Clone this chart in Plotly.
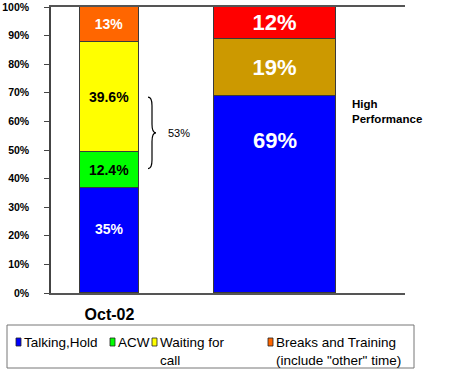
import plotly.graph_objects as go

# ---------------- data ----------------
categories = ["Oct-02", ""]
talking_hold = [36.8, 69.0]
acw = [12.4, None]
waiting_for_call = [38.5, None]
breaks_training = [12.3, None]
hp_middle = [None, 19.7]
hp_top = [None, 11.3]

talking_labels = ["35%", "69%"]
acw_labels = ["12.4%", ""]
waiting_labels = ["39.6%", ""]
breaks_labels = ["13%", ""]
hp_middle_labels = ["", "19%"]
hp_top_labels = ["", "12%"]

legend_names = ["Talking,Hold", "ACW", "Waiting for<br>call",
                "Breaks and Training<br>(include \"other\" time)"]
y_ticks = [0, 10, 20, 30, 40, 50, 60, 70, 80, 90, 100]
y_tick_labels = [f"{v}%" for v in y_ticks]
brace_label = "53%"
side_label = "High<br>Performance"

# ---------------- styling / layout ----------------
FONT = "Liberation Sans, Arial, sans-serif"
W, H = 450, 369
ML, MR, MT, MB = 51, 45, 7, 76
PX_PER_UNIT = 165.5
C0 = 109.5  # pixel centre of first bar
x_pos = list(range(len(categories)))
bar_widths = [59 / PX_PER_UNIT, 122 / PX_PER_UNIT]
OUTLINE = dict(color="#3a3a3a", width=1)
# the blue-segment labels sit above the segment centre in the original
TALKING_LABEL_FRAC = [0.61, 0.775]
TALKING_LABEL_SIZE = [14, 22]

def xd(px):
    return (px - C0) / PX_PER_UNIT

def xp(px):
    return (px - ML) / (W - ML - MR)

def yp(py):
    return (H - MB - py) / (H - MT - MB)

fig = go.Figure()

def add_seg(vals, labels, color, tcolors, tsizes):
    fig.add_trace(go.Bar(
        x=x_pos, y=vals, width=bar_widths,
        marker=dict(color=color, line=OUTLINE),
        text=labels, textposition="inside", insidetextanchor="middle",
        textangle=0, constraintext="none",
        textfont=dict(family=FONT, color=tcolors, size=tsizes, weight="bold"),
        showlegend=False, hoverinfo="skip", cliponaxis=False))

add_seg(talking_hold, ["", ""], "#0000FF", ["white", "white"], [14, 22])
add_seg(acw, acw_labels, "#00FF00", ["black", "black"], [14, 14])
add_seg(waiting_for_call, waiting_labels, "#FFFF00", ["black", "black"], [14, 14])
add_seg(breaks_training, breaks_labels, "#FF6600", ["white", "white"], [14, 14])
add_seg(hp_middle, hp_middle_labels, "#CC9900", ["white", "white"], [22, 22])
add_seg(hp_top, hp_top_labels, "#FF0000", ["white", "white"], [22, 22])

shapes = []
annotations = []

for xi, v, lab, fr, sz in zip(x_pos, talking_hold, talking_labels,
                              TALKING_LABEL_FRAC, TALKING_LABEL_SIZE):
    annotations.append(dict(x=xi, y=v * fr, xref="x", yref="y", text=lab,
                            showarrow=False, xanchor="center", yanchor="middle",
                            font=dict(family=FONT, size=sz, color="white", weight="bold")))

# curly brace
bx0, bxm, bx1 = xd(148), xd(152), xd(156)
ytop, ybot, ymid, c = 68.5, 43.5, 56.0, 3.0
path = (f"M {bx0},{ytop} Q {bxm},{ytop} {bxm},{ytop-c} L {bxm},{ymid+c} "
        f"Q {bxm},{ymid} {bx1},{ymid} Q {bxm},{ymid} {bxm},{ymid-c} "
        f"L {bxm},{ybot+c} Q {bxm},{ybot} {bx0},{ybot}")
shapes.append(dict(type="path", path=path, xref="x", yref="y",
                   line=dict(color="black", width=1.2)))
annotations.append(dict(x=xd(166), y=ymid, xref="x", yref="y", text=brace_label,
                        showarrow=False, xanchor="left", yanchor="middle",
                        font=dict(family=FONT, size=11, color="black")))
annotations.append(dict(x=xd(350), y=63.5, xref="x", yref="y", text=side_label,
                        showarrow=False, xanchor="left", yanchor="middle", align="left",
                        font=dict(family=FONT, size=11.5, color="black", weight="bold")))

# manual legend
shapes.append(dict(type="rect", xref="paper", yref="paper",
                   x0=xp(7), x1=xp(414), y0=yp(325), y1=yp(368),
                   line=dict(color="#777777", width=1), fillcolor="white"))
legend_colors = ["#0000FF", "#00FF00", "#FFFF00", "#FF6600"]
legend_left = [16, 110, 152, 268]
for name, col, lx in zip(legend_names, legend_colors, legend_left):
    shapes.append(dict(type="rect", xref="paper", yref="paper",
                       x0=xp(lx), x1=xp(lx + 5), y0=yp(346), y1=yp(338),
                       line=dict(color="#222222", width=0.8), fillcolor=col))
    annotations.append(dict(x=xp(lx + 7), y=yp(334), xref="paper", yref="paper",
                            text=name, showarrow=False, xanchor="left", yanchor="top",
                            align="left", borderpad=0,
                            font=dict(family=FONT, size=13.5, color="black")))

fig.update_layout(
    width=W, height=H, margin=dict(l=ML, r=MR, t=MT, b=MB),
    barmode="stack", bargap=0, showlegend=False,
    plot_bgcolor="white", paper_bgcolor="white",
    shapes=shapes, annotations=annotations,
    xaxis=dict(range=[xd(ML), xd(W - MR)], tickmode="array", tickvals=[0],
               ticktext=[categories[0]], automargin=False,
               showgrid=False, zeroline=False, showline=True, mirror=True,
               linecolor="#555555", linewidth=1.5, ticks="",
               tickfont=dict(family=FONT, size=16, color="black", weight="bold"),
               ticklabelstandoff=6),
    yaxis=dict(range=[0, 100], tickmode="array", tickvals=y_ticks,
               ticktext=y_tick_labels, automargin=False,
               showgrid=False, zeroline=False, showline=True,
               linecolor="#444444", linewidth=1.5, ticks="outside", ticklen=5,
               tickcolor="#444444", ticklabelstandoff=13,
               tickfont=dict(family=FONT, size=10.5, color="black", weight="bold")),
)

fig.write_html("out.html", config={"displayModeBar": False},
               post_script="document.body.style.margin='0px';document.body.style.overflow='hidden';")
